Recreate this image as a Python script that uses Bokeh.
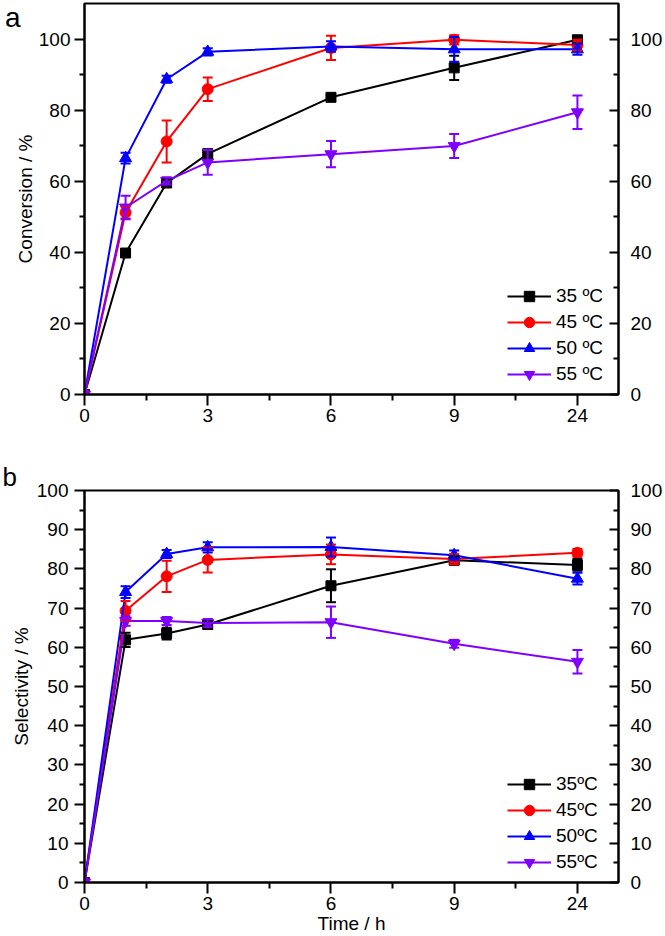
from bokeh.plotting import figure
from bokeh.models import (LinearAxis, FixedTicker, Legend, LegendItem,
                          Whisker, TeeHead, ColumnDataSource, Range1d)
from bokeh.layouts import column
from bokeh.embed import file_html
from bokeh.resources import INLINE

# ---------------- data ----------------
time_h = [0, 1, 2, 3, 6, 9, 24]
x_tick_labels = ["0", "3", "6", "9", "24"]

legend_a = ["35 ºC", "45 ºC", "50 ºC", "55 ºC"]
legend_b = ["35ºC", "45ºC", "50ºC", "55ºC"]

# (a) conversion / %
conv_35 = [0, 39.8, 59.5, 67.7, 83.6, 91.9, 99.8]
conv_45 = [0, 51.2, 71.2, 85.9, 97.5, 99.8, 98.3]
conv_50 = [0, 66.5, 88.7, 96.4, 97.9, 97.1, 97.1]
conv_55 = [0, 52.6, 60.1, 65.3, 67.6, 69.9, 79.4]
conv_35_err = [0, 1.0, 1.0, 1.2, 0.8, 3.4, 1.0]
conv_45_err = [0, 1.7, 5.9, 3.3, 3.4, 1.3, 1.5]
conv_50_err = [0, 1.5, 1.0, 1.0, 1.5, 3.5, 1.5]
conv_55_err = [0, 3.3, 1.0, 3.5, 3.7, 3.4, 4.7]

# (b) selectivity / %
sel_35 = [0, 61.9, 63.5, 65.8, 75.7, 82.2, 81.0]
sel_45 = [0, 69.3, 78.1, 82.3, 83.7, 82.5, 84.1]
sel_50 = [0, 74.1, 83.8, 85.5, 85.6, 83.5, 77.5]
sel_55 = [0, 66.7, 66.7, 66.2, 66.4, 60.9, 56.3]
sel_35_err = [0, 1.8, 1.5, 1.0, 4.2, 1.0, 1.5]
sel_45_err = [0, 2.5, 4.0, 3.2, 2.5, 1.3, 1.0]
sel_50_err = [0, 1.5, 1.0, 1.3, 2.4, 1.2, 1.5]
sel_55_err = [0, 1.2, 1.0, 1.0, 4.0, 1.0, 3.0]

# ---------------- style ----------------
FONT = "Liberation Sans"
COLORS = ["#000000", "#FF0000", "#0000FF", "#7F00FF"]
MARKERS = ["square", "circle", "triangle", "inverted_triangle"]
MSIZES = [10, 11, 12, 12]


def axis_pos(t):
    # broken time axis: the 24 h point sits one interval after 9 h
    return t if t <= 9 else 12


x_pos = [axis_pos(t) for t in time_h]
x_ticks = [axis_pos(int(s)) for s in x_tick_labels]
x_minor = [(a + b) / 2 for a, b in zip(x_ticks[:-1], x_ticks[1:])]
x_overrides = {axis_pos(int(s)): s for s in x_tick_labels}


def style_axis(ax, tick_out, tick_in, minor_out, minor_in, standoff):
    ax.axis_line_width = 2
    ax.axis_line_color = "black"
    ax.major_tick_line_width = 2
    ax.minor_tick_line_width = 2
    ax.major_tick_line_color = "black"
    ax.minor_tick_line_color = "black"
    ax.major_tick_out = tick_out
    ax.major_tick_in = tick_in
    ax.minor_tick_out = minor_out
    ax.minor_tick_in = minor_in
    ax.major_label_standoff = standoff
    ax.major_label_text_font = FONT
    ax.major_label_text_font_size = "19px"
    ax.major_label_text_color = "black"
    ax.axis_label_text_font = FONT
    ax.axis_label_text_font_size = "19px"
    ax.axis_label_text_font_style = "normal"
    ax.axis_label_text_color = "black"


def make_panel(height, mb_top, mb_bottom, y_end, y_ticks, y_minor, ylabel,
               series, errs, labels, xlabel):
    p = figure(width=665, height=height, x_range=Range1d(0, 13),
               y_range=Range1d(0, y_end), output_backend="svg",
               toolbar_location=None, min_border_left=84, min_border_right=45,
               min_border_top=mb_top, min_border_bottom=mb_bottom)
    p.xgrid.visible = False
    p.ygrid.visible = False
    p.outline_line_color = "black"
    p.outline_line_width = 2
    p.outline_line_alpha = 1
    p.background_fill_color = "white"
    p.border_fill_color = "white"

    xa = p.xaxis[0]
    xa.ticker = FixedTicker(ticks=x_ticks, minor_ticks=x_minor)
    xa.major_label_overrides = x_overrides
    style_axis(xa, 11, 0, 6, 0, 3)
    if xlabel:
        xa.axis_label = xlabel
        xa.axis_label_standoff = 0

    ya = p.yaxis[0]
    ya.ticker = FixedTicker(ticks=y_ticks, minor_ticks=y_minor)
    ya.axis_label = ylabel
    ya.axis_label_standoff = 2
    style_axis(ya, 10, 0, 5, 0, 6)

    ra = LinearAxis(ticker=FixedTicker(ticks=y_ticks, minor_ticks=y_minor))
    style_axis(ra, 0, 9, 0, 5, 12)
    p.add_layout(ra, "right")

    items = []
    for vals, err, lab, c, m, s in zip(series, errs, labels, COLORS, MARKERS, MSIZES):
        src = ColumnDataSource(dict(x=x_pos, y=vals))
        lr = p.line("x", "y", source=src, line_color=c, line_width=2)
        idx = [i for i, e in enumerate(err) if e > 0]
        esrc = ColumnDataSource(dict(
            x=[x_pos[i] for i in idx],
            upper=[vals[i] + err[i] for i in idx],
            lower=[vals[i] - err[i] for i in idx]))
        w = Whisker(source=esrc, base="x", upper="upper", lower="lower",
                    line_color=c, line_width=2, level="glyph",
                    upper_head=TeeHead(size=10, line_color=c, line_width=2),
                    lower_head=TeeHead(size=10, line_color=c, line_width=2))
        p.add_layout(w)
        sr = p.scatter("x", "y", source=src, marker=m, size=s,
                       fill_color=c, line_color=c)
        items.append(LegendItem(label=lab, renderers=[lr, sr]))

    leg = Legend(items=items, location="bottom_right",
                 background_fill_alpha=0, border_line_alpha=0,
                 glyph_width=44, glyph_height=26, label_height=20,
                 label_width=55, spacing=-1, padding=3, margin=4,
                 label_standoff=5, label_text_font=FONT,
                 label_text_font_size="19px", label_text_color="black")
    p.add_layout(leg)
    return p


pa = make_panel(460, 3, 66, 110, list(range(0, 101, 20)), list(range(10, 100, 20)),
                "Conversion / %",
                [conv_35, conv_45, conv_50, conv_55],
                [conv_35_err, conv_45_err, conv_50_err, conv_55_err],
                legend_a, None)

pb = make_panel(476, 30, 54, 100, list(range(0, 101, 10)), list(range(5, 100, 10)),
                "Selectivity / %",
                [sel_35, sel_45, sel_50, sel_55],
                [sel_35_err, sel_45_err, sel_50_err, sel_55_err],
                legend_b, "Time / h")

# panel letter "a": an outer, invisible left axis carrying a single label
pa.yaxis[0].major_label_standoff = 4
pa.yaxis[0].axis_label_standoff = 0
letter_axis = LinearAxis(ticker=FixedTicker(ticks=[106], minor_ticks=[]),
                         major_label_overrides={106: "a"})
letter_axis.axis_line_alpha = 0
letter_axis.major_tick_line_alpha = 0
letter_axis.minor_tick_line_alpha = 0
letter_axis.major_tick_out = 0
letter_axis.major_tick_in = 0
letter_axis.minor_tick_out = 0
letter_axis.minor_tick_in = 0
letter_axis.major_label_standoff = -9
letter_axis.major_label_text_font = FONT
letter_axis.major_label_text_font_size = "28px"
letter_axis.major_label_text_color = "black"
pa.add_layout(letter_axis, "left")

# panel letter "b" as a left-aligned title
pb.title.text = "b"
pb.title.align = "left"
pb.title.offset = -82
pb.title.standoff = -2
pb.title.text_font = FONT
pb.title.text_font_size = "26px"
pb.title.text_font_style = "normal"
pb.title.text_color = "black"

layout = column(pa, pb, spacing=0)
open("out.html", "w").write(file_html(layout, INLINE))
